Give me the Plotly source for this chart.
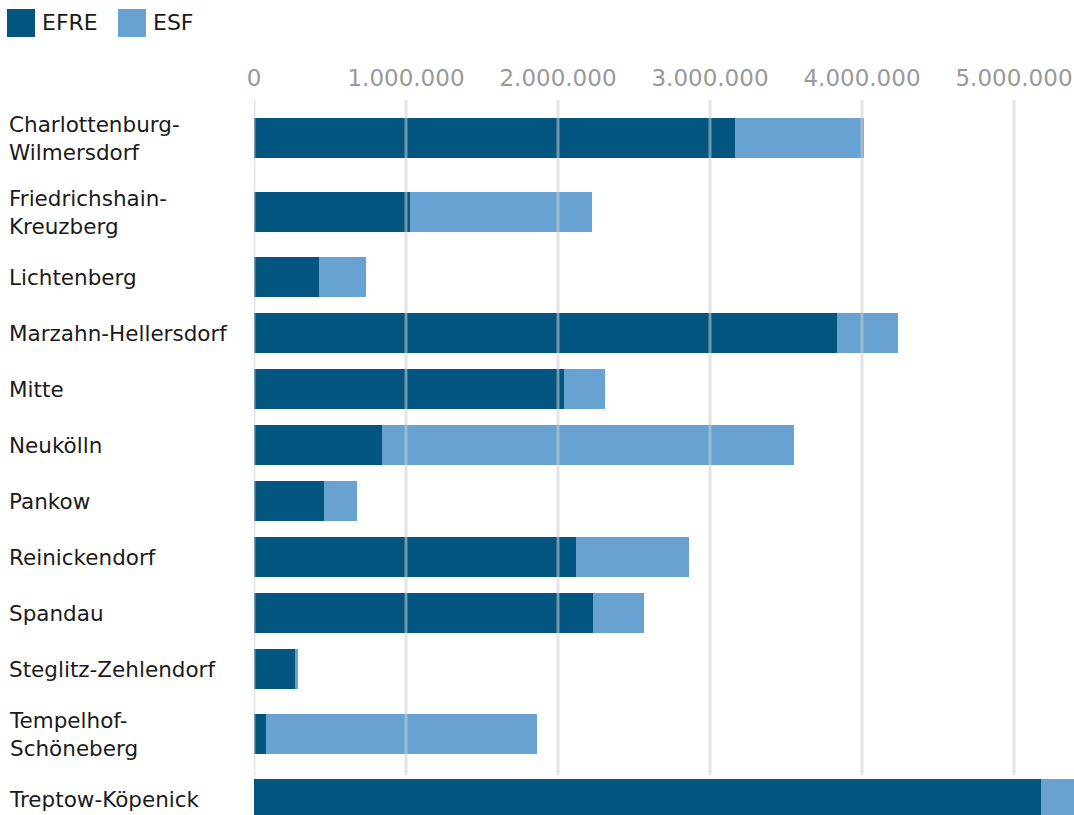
import plotly.graph_objects as go

# ---- data ----
districts = [
    "Charlottenburg-<br>Wilmersdorf",
    "Friedrichshain-<br>Kreuzberg",
    "Lichtenberg",
    "Marzahn-Hellersdorf",
    "Mitte",
    "Neukölln",
    "Pankow",
    "Reinickendorf",
    "Spandau",
    "Steglitz-Zehlendorf",
    "Tempelhof-<br>Schöneberg",
    "Treptow-Köpenick",
]
efre = [3164000, 1026000, 428000, 3836000, 2039000, 842000, 461000, 2118000,
        2230000, 270000, 79000, 5178000]
esf = [847000, 1197000, 309000, 401000, 270000, 2711000, 217000, 743000,
       336000, 20000, 1783000, 350000]
tick_vals = [0, 1000000, 2000000, 3000000, 4000000, 5000000]
tick_text = ["0", "1.000.000", "2.000.000", "3.000.000", "4.000.000", "5.000.000"]
series_names = ["EFRE", "ESF"]
series_colors = ["#02557f", "#68a2d2"]

# ---- layout geometry ----
W, H = 1074, 815
ML, MR, MT, MB = 254, 0, 100, 0
PW, PH = W - ML - MR, H - MT - MB
PX_PER_UNIT = 152 / 1e6
x_max = PW / PX_PER_UNIT

def px_x(px):
    return (px - ML) / PW

def px_y(py):
    return 1 - (py - MT) / PH

# row heights depend on number of label lines
row_h = [56 + 18 * (d.count("<br>")) for d in districts]
centers = []
pos = 1
for i, h in enumerate(row_h):
    if i == 0:
        pos += h / 2
    else:
        pos += (row_h[i - 1] + h) / 2
    centers.append(pos)

font_family = "'DejaVu Sans', sans-serif"

fig = go.Figure()
for name, vals, col in zip(series_names, [efre, esf], series_colors):
    fig.add_trace(go.Bar(
        y=centers, x=vals, orientation="h", name=name,
        marker=dict(color=col, line=dict(width=0)),
        width=40, showlegend=False,
        hovertemplate="%{x:,.0f}<extra>" + name + "</extra>",
    ))

shapes = []
grid_bottom = centers[-1] - 24
for tv in tick_vals:
    shapes.append(dict(
        type="line", xref="x", yref="y",
        x0=tv, x1=tv, y0=0, y1=grid_bottom,
        line=dict(color="rgba(205,205,205,0.55)", width=3),
        layer="above",
    ))

annotations = []
for c, d in zip(centers, districts):
    annotations.append(dict(
        x=px_x(7), y=c, xref="paper", yref="y",
        text=d, showarrow=False, xanchor="left", yanchor="middle",
        align="left", font=dict(size=21.5, color="#1a1a1a", family=font_family),
    ))

# custom legend
leg_x = 7
for name, col in zip(series_names, series_colors):
    shapes.append(dict(
        type="rect", xref="paper", yref="paper",
        x0=px_x(leg_x), x1=px_x(leg_x + 28), y0=px_y(37), y1=px_y(9),
        fillcolor=col, line=dict(width=0),
    ))
    annotations.append(dict(
        x=px_x(leg_x + 33), y=px_y(23), xref="paper", yref="paper",
        text=name, showarrow=False, xanchor="left", yanchor="middle",
        font=dict(size=22, color="#1a1a1a", family=font_family),
    ))
    leg_x += 111

fig.update_layout(
    width=W, height=H,
    margin=dict(l=ML, r=MR, t=MT, b=MB, pad=0),
    paper_bgcolor="white", plot_bgcolor="white",
    barmode="stack", bargap=0,
    font=dict(family=font_family),
    xaxis=dict(
        side="top", range=[0, x_max], tickvals=tick_vals, ticktext=tick_text,
        showgrid=False, zeroline=False, showline=False, ticks="",
        tickfont=dict(size=23, color="#999999", family=font_family),
        ticklabelstandoff=8,
    ),
    yaxis=dict(
        range=[PH, 0], showticklabels=False, showgrid=False,
        zeroline=False, showline=False, ticks="",
    ),
    shapes=shapes, annotations=annotations,
)

fig.write_html("out.html")
